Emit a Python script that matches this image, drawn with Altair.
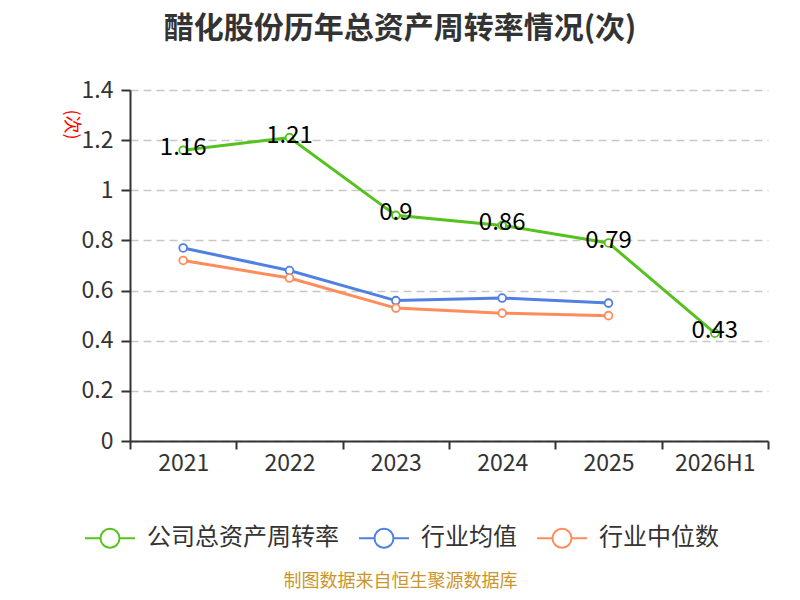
import altair as alt
import pandas as pd

years = ["2021", "2022", "2023", "2024", "2025", "2026H1"]
company = [1.16, 1.21, 0.90, 0.86, 0.79, 0.43]
ind_avg = [0.77, 0.68, 0.56, 0.57, 0.55, None]
ind_med = [0.72, 0.65, 0.53, 0.51, 0.50, None]

series_names = ["公司总资产周转率", "行业均值", "行业中位数"]
series_colors = ["#55c21d", "#4f80e2", "#ff8c5a"]

rows = []
for name, vals in zip(series_names, [company, ind_avg, ind_med]):
    for i, (y, v) in enumerate(zip(years, vals)):
        if v is not None:
            rows.append({"year": y, "value": v, "series": name, "order": i,
                         "label": f"{v:g}"})
df = pd.DataFrame(rows)

FONT = "Noto Sans CJK SC"

legend_path = ("M-1,0L-0.38,0M0.38,0L1,0"
               "M-0.38,0A0.38,0.38 0 1,1 0.38,0A0.38,0.38 0 1,1 -0.38,0Z")

x_enc = alt.X("year:N", sort=years,
              scale=alt.Scale(type="band", paddingInner=0, paddingOuter=0),
              axis=alt.Axis(title="制图数据来自恒生聚源数据库", titleFontSize=18,
                            titleColor="#c9962b", titleFontWeight="normal",
                            titleX=270, titleY=140, titleAlign="center",
                            titleBaseline="middle", titleFont=FONT,
                            labelAngle=0, labelFontSize=23, labelColor="#333333",
                            labelFont=FONT, labelPadding=3,
                            domainColor="#333333", domainWidth=2,
                            tickColor="#333333", tickWidth=2, tickSize=8,
                            tickBand="extent", grid=False))

y_enc = alt.Y("value:Q",
              scale=alt.Scale(domain=[0, 1.4], nice=False, zero=True),
              axis=alt.Axis(values=[0, 0.2, 0.4, 0.6, 0.8, 1.0, 1.2, 1.4],
                            format=".1~f", title="(次)", titleColor="red",
                            titleFontSize=18, titleFontWeight="normal",
                            titleAngle=90, titleX=-60, titleY=34,
                            titleAlign="center", titleBaseline="middle",
                            titleFont=FONT,
                            labelFontSize=23, labelColor="#333333", labelFont=FONT,
                            labelPadding=8,
                            domainColor="#333333", domainWidth=2,
                            tickColor="#333333", tickWidth=2, tickSize=9,
                            grid=True, gridColor="#c8c8c8", gridDash=[8, 5],
                            gridWidth=1.5))

color_enc = alt.Color("series:N",
                      scale=alt.Scale(domain=series_names, range=series_colors),
                      legend=alt.Legend(orient="none", legendX=-46, legendY=422,
                                        direction="horizontal", title=None,
                                        symbolType=legend_path, symbolSize=2500,
                                        symbolStrokeWidth=2,
                                        symbolFillColor="white",
                                        labelFontSize=24, labelColor="#333333",
                                        labelFont=FONT, labelOffset=11,
                                        labelLimit=0, columnPadding=16))

base = alt.Chart(df)

lines = base.mark_line(strokeWidth=3).encode(
    x=x_enc, y=y_enc, color=color_enc, order="order:Q")

points = base.mark_point(filled=False, fill="white", size=60, strokeWidth=1.8,
                         opacity=1).encode(
    x=x_enc, y=y_enc, color=alt.Color("series:N",
                                      scale=alt.Scale(domain=series_names,
                                                      range=series_colors),
                                      legend=None))

labels = base.transform_filter(alt.datum.series == "公司总资产周转率").mark_text(
    fontSize=24, color="black", align="center", baseline="middle", dy=-2,
    font=FONT).encode(x=x_enc, y=y_enc, text="label:N")

chart = alt.layer(lines, points, labels).properties(
    width=638, height=351,
    autosize=alt.AutoSizeParams(type="none"),
    padding={"left": 122, "top": 82, "right": 24, "bottom": 154},
    title=alt.TitleParams("醋化股份历年总资产周转率情况(次)", fontSize=30,
                          fontWeight="bold", color="#333333", font=FONT,
                          anchor="middle", frame="group", dx=-49, offset=35),
    background="white",
).configure_view(stroke=None)

chart.save("out.html", embed_options={"renderer": "svg", "actions": False})
